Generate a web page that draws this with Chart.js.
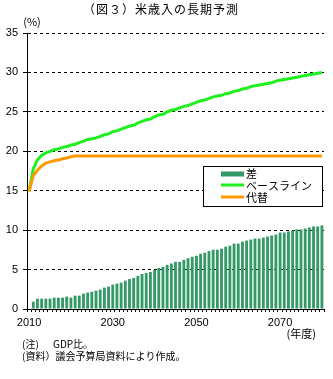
<!DOCTYPE html>
<html lang="ja">
<head>
<meta charset="utf-8">
<title>米歳入の長期予測</title>
<script src="https://cdn.jsdelivr.net/npm/chart.js@4.4.1/dist/chart.umd.min.js"></script>
<style>
  html, body { margin: 0; padding: 0; background: #fff; }
  #wrap { position: relative; width: 333px; height: 379px; }
</style>
</head>
<body>
<div id="wrap"><canvas id="revenueChart"></canvas></div>
<script>
const years = [
  2010, 2011, 2012, 2013, 2014, 2015, 2016, 2017, 2018, 2019,
  2020, 2021, 2022, 2023, 2024, 2025, 2026, 2027, 2028, 2029,
  2030, 2031, 2032, 2033, 2034, 2035, 2036, 2037, 2038, 2039,
  2040, 2041, 2042, 2043, 2044, 2045, 2046, 2047, 2048, 2049,
  2050, 2051, 2052, 2053, 2054, 2055, 2056, 2057, 2058, 2059,
  2060, 2061, 2062, 2063, 2064, 2065, 2066, 2067, 2068, 2069,
  2070, 2071, 2072, 2073, 2074, 2075, 2076, 2077, 2078, 2079,
  2080
];
const shownYears = [2010, 2030, 2050, 2070];

// 差 (ベースライン − 代替), 2010年度は差なし
const gap = [
  null,
  0.93, 1.31, 1.31, 1.31, 1.31, 1.44, 1.44, 1.44, 1.57, 1.44,
  1.69, 1.69, 1.95, 2.08, 2.2, 2.33, 2.46, 2.71, 2.84, 3.09,
  3.22, 3.35, 3.6, 3.8, 3.93, 4.19, 4.44, 4.57, 4.7, 4.96,
  5.21, 5.34, 5.6, 5.77, 5.98, 5.98, 6.24, 6.45, 6.62, 6.75,
  7.0, 7.14, 7.35, 7.52, 7.52, 7.65, 7.9, 8.03, 8.29, 8.29,
  8.55, 8.68, 8.8, 8.93, 8.93, 9.06, 9.19, 9.32, 9.44, 9.7,
  9.7, 9.83, 9.96, 10.09, 10.09, 10.2, 10.34, 10.47, 10.47, 10.6
];

const baseline = [
  14.9, 17.8, 18.9, 19.5, 19.8, 20.0, 20.2, 20.3, 20.5, 20.6,
  20.8, 20.9, 21.1, 21.3, 21.5, 21.6, 21.7, 21.9, 22.1, 22.2,
  22.5, 22.6, 22.8, 23.0, 23.2, 23.3, 23.6, 23.8, 24.0, 24.1,
  24.4, 24.6, 24.7, 25.0, 25.2, 25.3, 25.5, 25.7, 25.8, 26.0,
  26.2, 26.4, 26.5, 26.7, 26.9, 27.0, 27.1, 27.3, 27.4, 27.6,
  27.7, 27.9, 28.0, 28.2, 28.3, 28.4, 28.5, 28.6, 28.7, 28.9,
  29.0, 29.1, 29.2, 29.3, 29.4, 29.5, 29.6, 29.7, 29.8, 29.9,
  30.0
];

const alternative = [
  14.9, 16.9, 17.6, 18.15, 18.5, 18.65, 18.8, 18.9, 19.05, 19.15,
  19.3, 19.4, 19.4, 19.4, 19.4, 19.4, 19.4, 19.4, 19.4, 19.4,
  19.4, 19.4, 19.4, 19.4, 19.4, 19.4, 19.4, 19.4, 19.4, 19.4,
  19.4, 19.4, 19.4, 19.4, 19.4, 19.4, 19.4, 19.4, 19.4, 19.4,
  19.4, 19.4, 19.4, 19.4, 19.4, 19.4, 19.4, 19.4, 19.4, 19.4,
  19.4, 19.4, 19.4, 19.4, 19.4, 19.4, 19.4, 19.4, 19.4, 19.4,
  19.4, 19.4, 19.4, 19.4, 19.4, 19.4, 19.4, 19.4, 19.4, 19.4,
  19.4
];

const JP = '"Noto Sans CJK JP", sans-serif';
const NUM = '"Liberation Sans", Arial, sans-serif';

// 凡例は枠付きでプロット内に描く
const boxLegend = {
  id: 'boxLegend',
  afterDatasetsDraw(chart) {
    const ctx = chart.ctx;
    const area = chart.chartArea;
    const bx = area.right - 120.5, by = 166.5, bw = 119, bh = 40;
    ctx.save();
    ctx.fillStyle = '#fff';
    ctx.fillRect(bx, by, bw, bh);
    ctx.strokeStyle = '#000';
    ctx.lineWidth = 1;
    ctx.strokeRect(bx, by, bw, bh);

    const rows = [174, 186, 198];
    ctx.font = '11px ' + JP;
    ctx.textBaseline = 'middle';
    ctx.textAlign = 'left';
    chart.data.datasets.forEach((ds, i) => {
      const y = rows[i];
      ctx.fillStyle = ds.borderColor;
      if (ds.type === 'bar') {
        ctx.fillStyle = ds.backgroundColor;
        ctx.fillRect(bx + 17.5, y - 2.5, 23, 5);
      } else {
        ctx.fillRect(bx + 17.5, y - 2.5, 23, 3);
      }
      ctx.fillStyle = '#000';
      ctx.fillText(ds.label, bx + 42.5, y);
    });
    ctx.restore();
  }
};

// 表題・単位・注記
const captions = {
  id: 'captions',
  afterDraw(chart) {
    const ctx = chart.ctx;
    ctx.save();
    ctx.fillStyle = '#000';
    ctx.textBaseline = 'middle';

    ctx.font = '12px ' + JP;
    ctx.textAlign = 'center';
    ctx.letterSpacing = '1px';
    ctx.fillText('（図３）米歳入の長期予測', 161, 9);
    ctx.letterSpacing = '0px';

    ctx.font = '11px ' + JP;
    ctx.fillText('(%)', 32, 22);

    ctx.textAlign = 'right';
    ctx.fillText('(年度)', 316, 334);

    ctx.textAlign = 'left';
    ctx.font = '10px ' + JP;
    ctx.fillText('(注)', 22, 344);
    ctx.fillText('GDP比。', 53, 344);
    ctx.fillText('(資料）議会予算局資料により作成。', 22, 356);
    ctx.restore();
  }
};

const ctx = document.getElementById('revenueChart').getContext('2d');
const revenueChart = new Chart(ctx, {
  data: {
    labels: years,
    datasets: [
      {
        type: 'bar',
        label: '差',
        data: gap,
        backgroundColor: '#339966',
        borderColor: '#339966',
        borderWidth: 0,
        categoryPercentage: 1,
        barPercentage: 0.68,
        order: 3
      },
      {
        type: 'line',
        label: 'ベースライン',
        data: baseline,
        borderColor: '#1ef01e',
        borderWidth: 3,
        pointRadius: 0,
        tension: 0,
        order: 2
      },
      {
        type: 'line',
        label: '代替',
        data: alternative,
        borderColor: '#ff9900',
        borderWidth: 3,
        pointRadius: 0,
        tension: 0,
        order: 1
      }
    ]
  },
  options: {
    responsive: true,
    maintainAspectRatio: false,
    animation: false,
    layout: {
      padding: { top: 33, right: 9, bottom: 48, left: 0 }
    },
    plugins: {
      legend: { display: false },
      tooltip: { enabled: false },
      title: { display: false }
    },
    scales: {
      x: {
        type: 'category',
        offset: true,
        grid: {
          offset: true,
          drawOnChartArea: false,
          drawTicks: true,
          tickLength: 3,
          tickColor: '#000'
        },
        border: { color: '#000', width: 1 },
        ticks: {
          autoSkip: false,
          maxRotation: 0,
          minRotation: 0,
          padding: 4,
          color: '#000',
          font: { family: NUM, size: 11 },
          callback: function (value) {
            const yr = this.getLabelForValue(value);
            return shownYears.includes(Number(yr)) ? String(yr) : '';
          }
        },
        afterFit(scale) { scale.height = 22; }
      },
      y: {
        min: 0,
        max: 35,
        grid: {
          color: (c) => (c.tick && c.tick.value === 0 ? 'rgba(0,0,0,0)' : '#000'),
          tickColor: '#000',
          tickLength: 4,
          lineWidth: 1
        },
        border: { color: '#000', width: 1, dash: [3, 3] },
        ticks: {
          stepSize: 5,
          padding: 5,
          color: '#000',
          font: { family: NUM, size: 11 }
        },
        afterFit(scale) { scale.width = 27; }
      }
    }
  },
  plugins: [boxLegend, captions]
});
</script>
</body>
</html>
